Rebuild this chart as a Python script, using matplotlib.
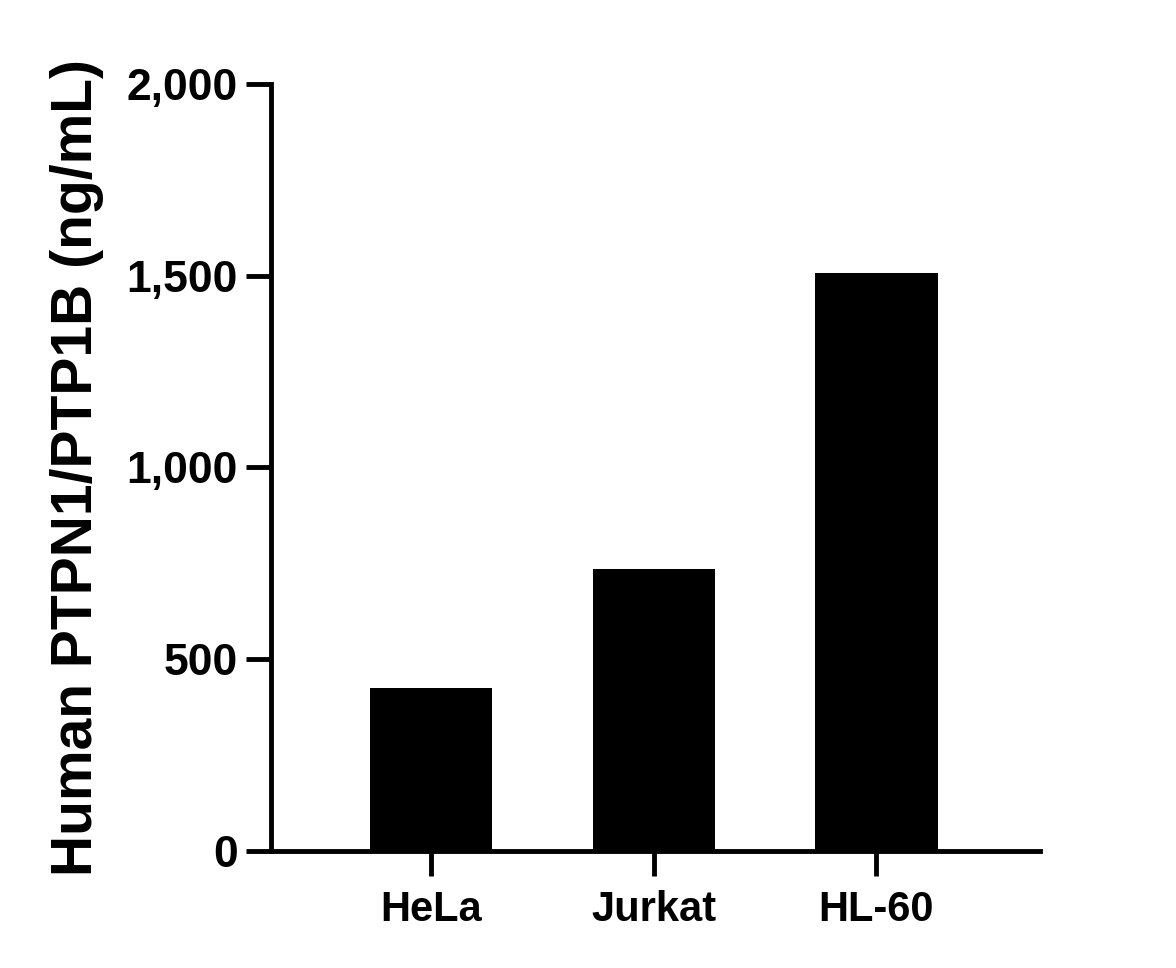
import matplotlib
matplotlib.use("Agg")
import matplotlib.pyplot as plt
from matplotlib.ticker import FuncFormatter

categorias = ["HeLa", "Jurkat", "HL-60"]
valores = [425, 735, 1507]
ticks_y = [0, 500, 1000, 1500, 2000]

plt.rcParams['font.family'] = ['Liberation Sans', 'DejaVu Sans']
plt.rcParams['font.weight'] = 'bold'

fig = plt.figure(figsize=(11.76, 9.68), dpi=100)
ax = fig.add_axes([0.2304, 0.1209, 0.8843 - 0.2304, 0.9132 - 0.1209])

x = list(range(len(categorias)))
ax.bar(x, valores, width=0.55, color='black')

ax.set_xlim(-0.72, 2.735)
ax.set_ylim(0, 2000)
ax.set_xticks(x)
ax.set_xticklabels(categorias, fontsize=30, fontweight='bold')
ax.set_yticks(ticks_y)
ax.yaxis.set_major_formatter(FuncFormatter(lambda v, p: f"{int(v):,}"))
for lbl in ax.get_yticklabels():
    lbl.set_fontsize(32)
    lbl.set_fontweight('bold')

ax.set_ylabel("Human PTPN1/PTP1B (ng/mL)", fontsize=41, fontweight='bold', labelpad=16)

for s in ['top', 'right']:
    ax.spines[s].set_visible(False)
for s in ['left', 'bottom']:
    ax.spines[s].set_linewidth(3.5)
ax.tick_params(axis='both', width=3.5, length=18, color='black', pad=6)
ax.tick_params(axis='x', pad=10)

fig.savefig("out.png", dpi=100)
